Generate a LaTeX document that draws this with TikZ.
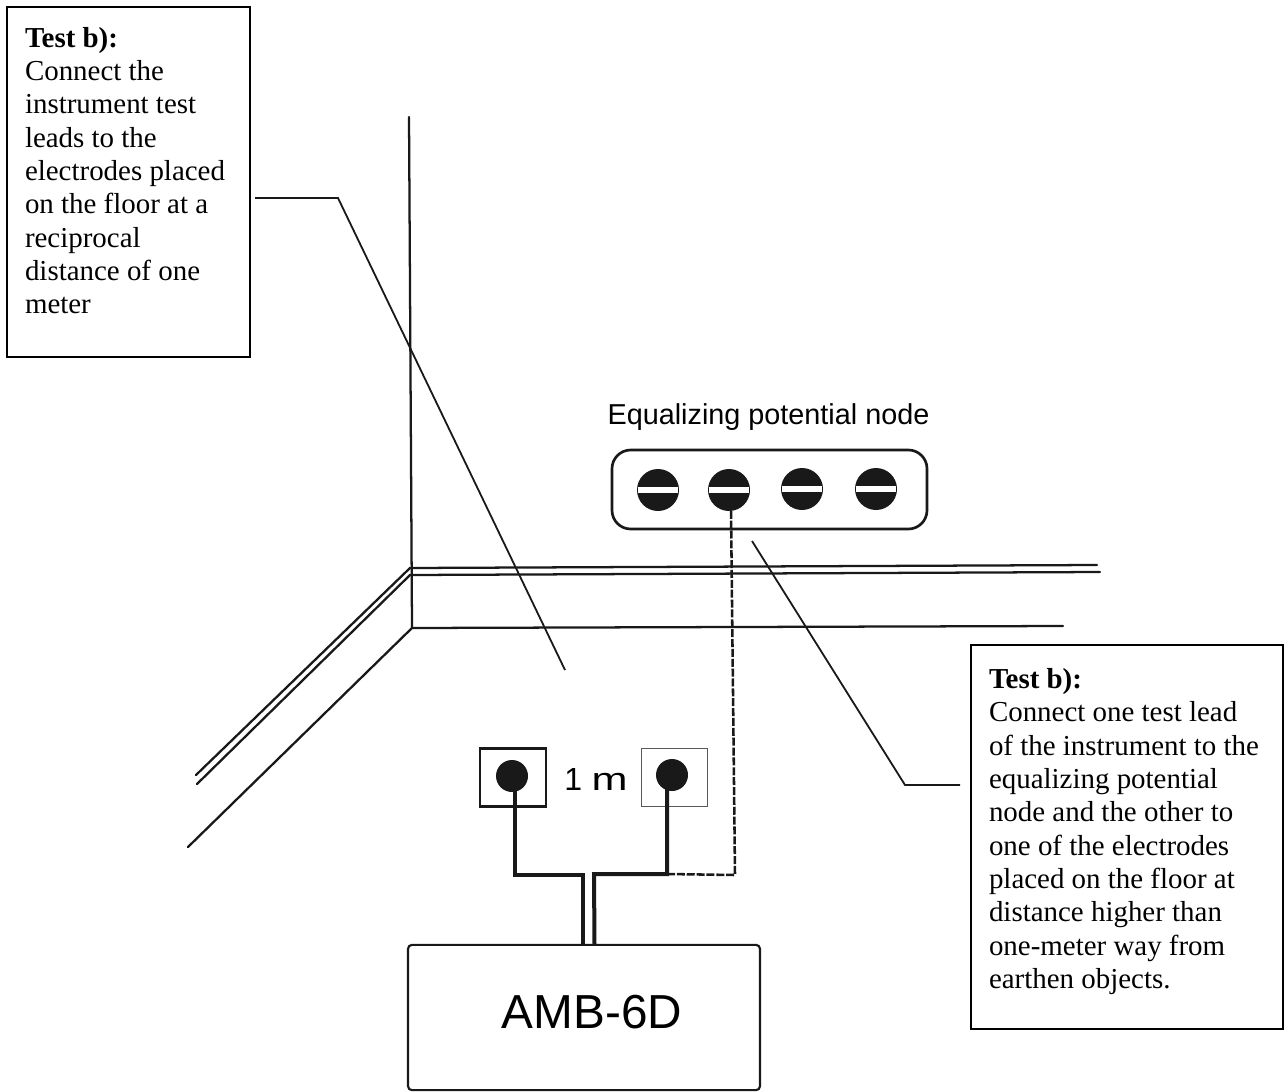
\documentclass[tikz,border=0pt]{standalone}
\usepackage{graphicx}
\usepackage{fontspec}
\setmainfont{Liberation Serif}
\newfontfamily\arialfont{Liberation Sans}
\newcommand{\notebody}{\fontsize{21.7}{25}\selectfont}
\tikzset{
  notebox/.style={draw=black,line width=0.9pt,rectangle,anchor=north west,inner sep=0pt,outer sep=0pt,fill=white,align=left},
  wall/.style={line width=1.7pt,black!90,line cap=round},
  leader/.style={line width=1.35pt,black!90},
  lead/.style={line width=3pt,black!90,line join=miter},
  dashlead/.style={line width=1.9pt,black!90,dash pattern=on 6pt off 1.4pt,line join=round},
  screw/.style={circle,fill=black!90,inner sep=0pt,minimum size=31.5pt},
  dot/.style={circle,fill=black!90,inner sep=0pt,minimum size=24pt},
  slot/.style={rectangle,fill=white,inner sep=0pt,minimum width=30pt,minimum height=4.4pt},
}
\begin{document}
\begin{tikzpicture}[x=0.75pt,y=-0.75pt]
\useasboundingbox (0,0) rectangle (1287,1091);
\fill[white] (0,0) rectangle (1287,1091);

% room
\coordinate (wt) at (409,117);
\coordinate (c0) at (412,628);
\coordinate (c1) at (410,568);
\coordinate (c2) at (410,575);
\coordinate (e1) at (1097,565);
\coordinate (e2) at (1100,572);
\coordinate (d1) at (196,775);
\coordinate (d2) at (197,784);
\coordinate (d0) at (188,847);
\coordinate (f0) at (1063,626);
\draw[wall] (wt) -- (c0);
\draw[wall] (d1) -- (c1) -- (e1);
\draw[wall] (d2) -- (c2) -- (e2);
\draw[wall] (d0) -- (c0) -- (f0);

% note boxes
\node[notebox] (noteA) at (7,7) {\parbox[t][262.5pt][t]{182.2pt}{\leftskip=13.5pt\notebody\rule{0pt}{30.2pt}\textbf{Test b):}\\
Connect the\\instrument test\\leads to the\\electrodes placed\\on the floor at a\\reciprocal\\distance of one\\meter}};
\node[notebox] (noteB) at (971,645) {\parbox[t][288pt][t]{234pt}{\leftskip=13.5pt\notebody\rule{0pt}{32.5pt}\textbf{Test b):}\\
Connect one test lead\\of the instrument to the\\equalizing potential\\node and the other to\\one of the electrodes\\placed on the floor at\\distance higher than\\one-meter way from\\earthen objects.}};

% leaders
\coordinate (la) at (255,198);
\coordinate (lb) at (338,198);
\coordinate (lc) at (565,670);
\coordinate (ld) at (960,785);
\coordinate (le) at (905,785);
\coordinate (lf) at (752,541);
\draw[leader] (la) -- (lb) -- (lc);
\draw[leader] (ld) -- (le) -- (lf);

% equalizing node
\node[font=\arialfont\fontsize{21.6}{25}\selectfont,inner sep=0pt] (eqlabel) at (768.5,417) {Equalizing potential node};
\draw[line width=2pt,black!90,rounded corners=14pt] (612,450) rectangle (927,529);
\node[screw] (s1) at (658,490) {};
\node[screw] (s2) at (729,490) {};
\node[screw] (s3) at (802,489) {};
\node[screw] (s4) at (876,489) {};
\foreach \s in {s1,s2,s3,s4} \node[slot] at (\s) {};

% electrodes
\node[draw=black!90,line width=1.7pt,rectangle,minimum width=50pt,minimum height=43.5pt,inner sep=0pt] (pa) at (513,777.5) {};
\node[draw=black!65,line width=0.7pt,rectangle,minimum width=50pt,minimum height=44pt,inner sep=0pt] (pb) at (674.5,777.5) {};
\node[dot] (da) at (512,776) {};
\node[dot] (db) at (672,775) {};
\node[font=\arialfont\fontsize{24}{25}\selectfont,inner sep=0pt] (dist) at (596,779) {1\hspace{0.3em}\scalebox{1.35}[1]{m}};

% instrument
\node[draw=black!90,line width=1.6pt,rectangle,rounded corners=3pt,minimum width=264pt,minimum height=109pt,inner sep=0pt] (amb) at (584,1017.5) {};
\node[font=\arialfont\fontsize{35.8}{40}\selectfont,inner sep=0pt] (amblabel) at (592,1012) {AMB-6D};

% wires
\coordinate (ja) at (515,875);
\coordinate (jb) at (583,875);
\coordinate (jc) at (583,945);
\coordinate (jd) at (667,874);
\coordinate (je) at (594,874);
\coordinate (jf) at (594.5,945);
\coordinate (jg) at (515,776);
\coordinate (jh) at (667,776);
\coordinate (ji) at (735,875);
\coordinate (jj) at (731,510);
\draw[lead] (jg) -- (ja) -- (jb) -- (jc);
\draw[lead] (jh) -- (jd) -- (je) -- (jf);
\draw[dashlead] (jd) -- (ji) -- (jj);
\end{tikzpicture}
\end{document}
